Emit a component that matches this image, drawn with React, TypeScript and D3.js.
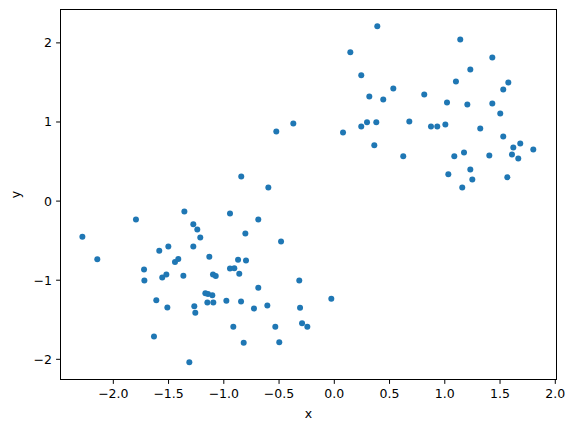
import * as d3 from "d3";
import { useEffect, useRef } from "react";

// upper-right cluster
const clusterAx = [
  0.389, 0.145, 1.14, 0.244, 0.534, 0.317, 0.443, 0.814, 1.101, 1.02, 0.296,
  0.244, 0.38, 0.679, 0.875, 0.932, 1.005, 0.079, 0.362, 0.624, 1.086, 1.43,
  1.231, 1.575, 1.529, 1.204, 1.43, 1.502, 1.321, 1.529, 1.62, 1.683, 1.801,
  1.608, 1.665, 1.403, 1.174, 1.231, 1.032, 1.249, 1.158, 1.566,
];
const clusterAy = [
  2.211, 1.882, 2.043, 1.591, 1.423, 1.322, 1.284, 1.347, 1.512, 1.246, 0.997,
  0.943, 0.997, 1.006, 0.943, 0.943, 0.968, 0.867, 0.706, 0.567, 0.567, 1.815,
  1.663, 1.499, 1.41, 1.221, 1.234, 1.107, 0.917, 0.816, 0.677, 0.728, 0.652,
  0.589, 0.538, 0.576, 0.614, 0.399, 0.34, 0.273, 0.171, 0.302,
];

// lower-left cluster
const clusterBx = [
  -2.28, -2.145, -1.795, -1.357, -0.944, -1.276, -1.24, -1.213, -0.805, -1.584,
  -1.502, -1.276, -1.131, -1.442, -1.412, -1.722, -1.719, -1.557, -1.52, -1.366,
  -1.098, -1.073, -0.871, -0.799, -0.944, -0.905, -0.86, -1.167, -1.143, -1.104,
  -1.149, -1.095, -0.977, -0.844, -1.611, -1.511, -1.267, -1.258, -0.914,
  -1.632, -1.312, -0.82, -0.371, -0.525, -0.842, -0.597, -0.688, -0.482,
  -0.688, -0.317, -0.027, -0.727, -0.606, -0.31, -0.534, -0.292, -0.244,
  -0.498,
];
const clusterBy = [
  -0.45, -0.735, -0.233, -0.132, -0.158, -0.293, -0.36, -0.461, -0.41, -0.626,
  -0.575, -0.575, -0.702, -0.769, -0.732, -0.866, -1.005, -0.967, -0.929,
  -0.942, -0.929, -0.946, -0.74, -0.752, -0.853, -0.849, -0.917, -1.165,
  -1.174, -1.19, -1.283, -1.283, -1.258, -1.27, -1.254, -1.346, -1.33, -1.41,
  -1.587, -1.713, -2.038, -1.789, 0.981, 0.879, 0.31, 0.171, -0.233, -0.512,
  -1.094, -1.005, -1.233, -1.359, -1.321, -1.347, -1.587, -1.545, -1.587,
  -1.785,
];

const xTicks = [-2.0, -1.5, -1.0, -0.5, 0.0, 0.5, 1.0, 1.5, 2.0];
const yTicks = [-2, -1, 0, 1, 2];

const W = 576;
const H = 432;
const plot = { left: 60.5, right: 556.5, top: 9.5, bottom: 379.5 };
const fmt = (v: number, d: number) => v.toFixed(d).replace("-", "\u2212");

function drawChart(el: SVGSVGElement) {
  const svg = d3.select(el);
  svg.selectAll("*").remove();

  const x = d3.scaleLinear().domain([-2.478, 2.011]).range([plot.left, plot.right]);
  const y = d3.scaleLinear().domain([-2.255, 2.422]).range([plot.bottom, plot.top]);

  const pts = [
    ...clusterAx.map((v, i) => [v, clusterAy[i]]),
    ...clusterBx.map((v, i) => [v, clusterBy[i]]),
  ];

  svg
    .append("g")
    .selectAll("circle")
    .data(pts)
    .enter()
    .append("circle")
    .attr("cx", (d) => x(d[0]))
    .attr("cy", (d) => y(d[1]))
    .attr("r", 3)
    .attr("fill", "#1f77b4");

  // frame
  svg
    .append("rect")
    .attr("x", plot.left)
    .attr("y", plot.top)
    .attr("width", plot.right - plot.left)
    .attr("height", plot.bottom - plot.top)
    .attr("fill", "none")
    .attr("stroke", "black")
    .attr("stroke-width", 1);

  const font = "'DejaVu Sans', sans-serif";

  // x ticks
  const xg = svg.append("g").selectAll("g").data(xTicks).enter().append("g");
  xg.append("line")
    .attr("x1", (d) => x(d))
    .attr("x2", (d) => x(d))
    .attr("y1", plot.bottom)
    .attr("y2", plot.bottom + 4.4)
    .attr("stroke", "black");
  xg.append("text")
    .attr("x", (d) => x(d))
    .attr("y", plot.bottom + 18)
    .attr("text-anchor", "middle")
    .style("font-family", font)
    .style("font-size", "12.5px")
    .text((d) => fmt(d, 1));

  // y ticks
  const yg = svg.append("g").selectAll("g").data(yTicks).enter().append("g");
  yg.append("line")
    .attr("x1", plot.left - 4.4)
    .attr("x2", plot.left)
    .attr("y1", (d) => y(d))
    .attr("y2", (d) => y(d))
    .attr("stroke", "black");
  yg.append("text")
    .attr("x", plot.left - 8.5)
    .attr("y", (d) => y(d) + 4.5)
    .attr("text-anchor", "end")
    .style("font-family", font)
    .style("font-size", "12.5px")
    .text((d) => fmt(d, 0));

  // axis labels
  svg
    .append("text")
    .attr("x", (plot.left + plot.right) / 2)
    .attr("y", 418)
    .attr("text-anchor", "middle")
    .style("font-family", font)
    .style("font-size", "12.5px")
    .text("x");

  svg
    .append("text")
    .attr("transform", `translate(19.5,${(plot.top + plot.bottom) / 2})rotate(-90)`)
    .attr("text-anchor", "middle")
    .style("font-family", font)
    .style("font-size", "12.5px")
    .text("y");
}

export default function App() {
  const ref = useRef<SVGSVGElement>(null);
  useEffect(() => {
    if (ref.current) drawChart(ref.current);
  }, []);
  return (
    <svg
      ref={ref}
      width={W}
      height={H}
      style={{ position: "absolute", left: 0, top: 0, background: "white" }}
    />
  );
}
